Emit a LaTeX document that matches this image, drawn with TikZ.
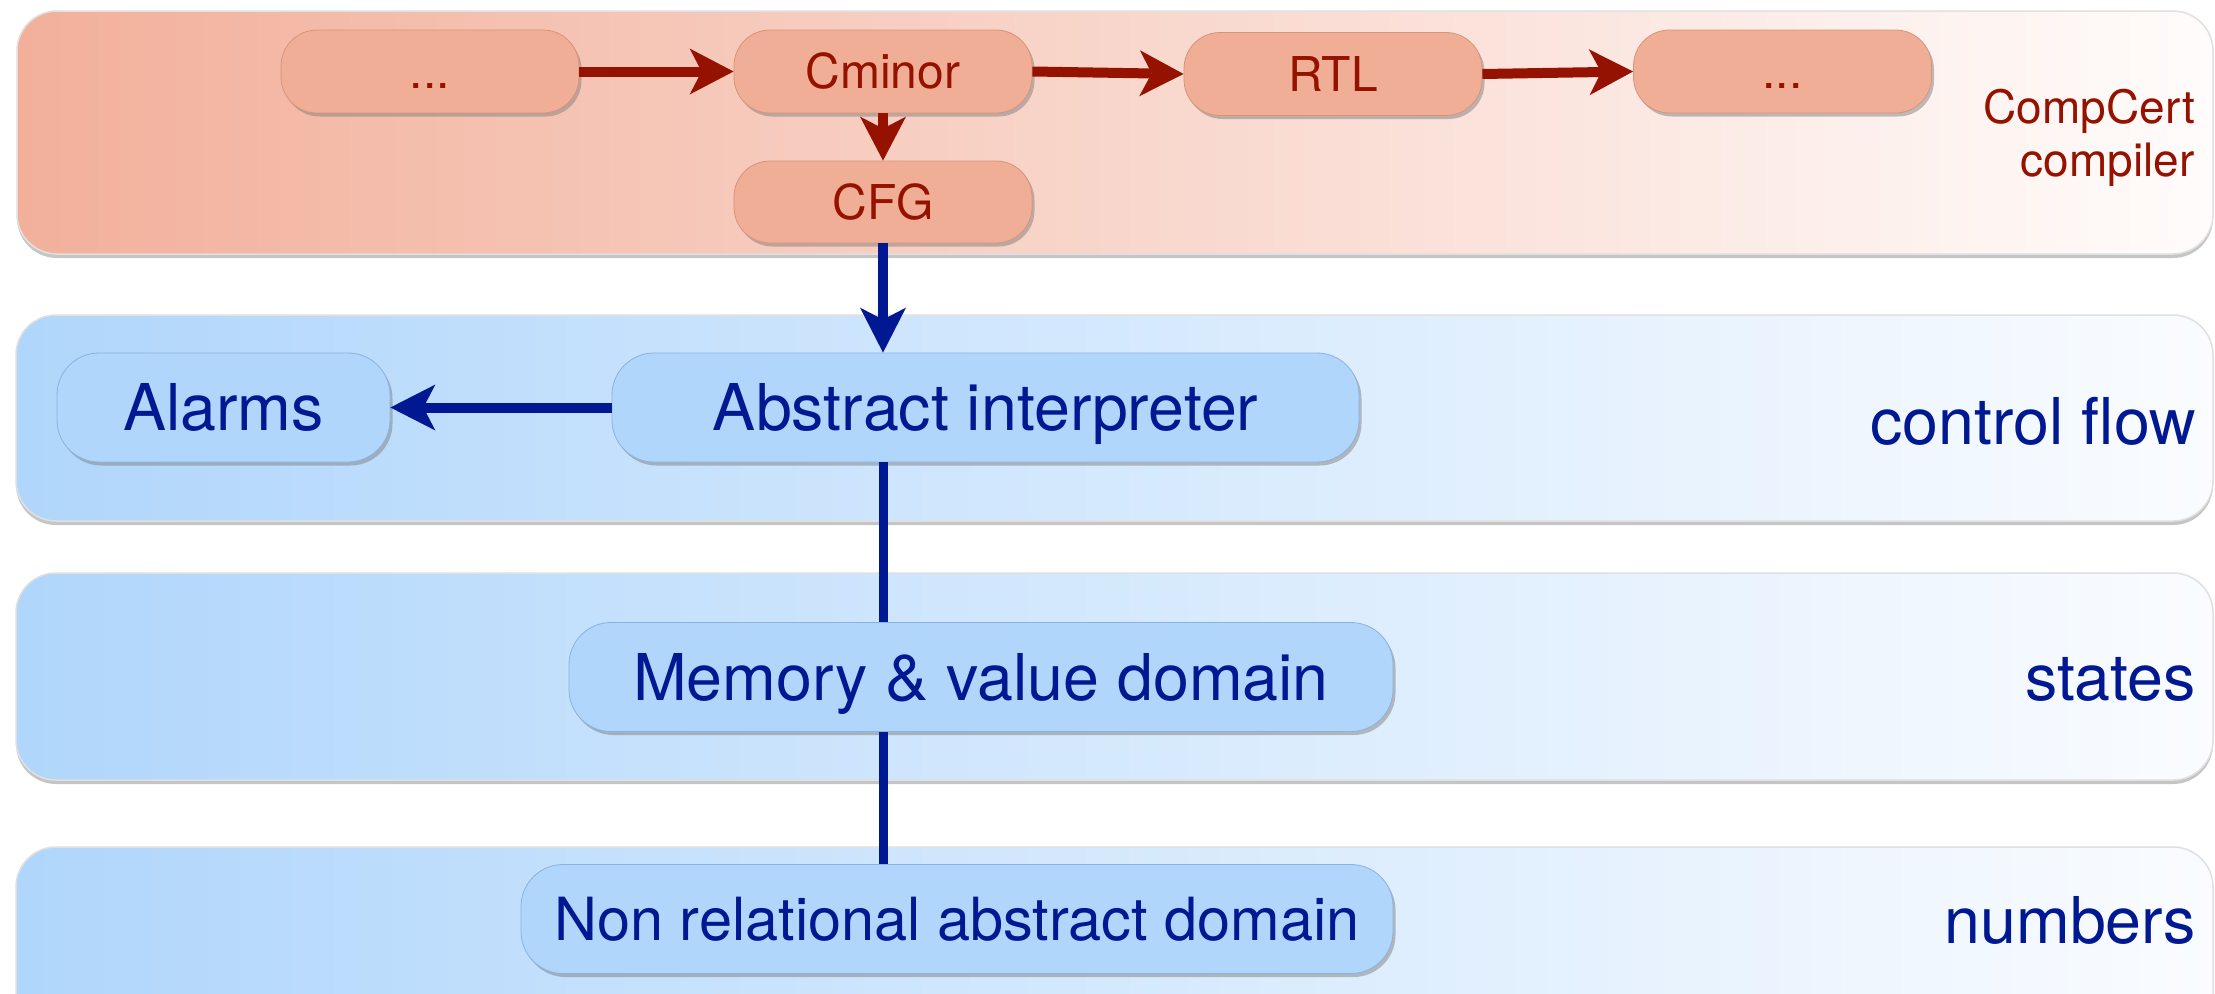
\documentclass[tikz,border=0pt]{standalone}
\usepackage{fontspec}
\setmainfont{TeX Gyre Heros}
\usetikzlibrary{arrows.meta,shadows}
\definecolor{redtxt}{RGB}{150,18,0}
\definecolor{navy}{RGB}{0,24,145}
\definecolor{salmonL}{RGB}{242,176,155}
\definecolor{salmonR}{RGB}{255,252,251}
\definecolor{salmonbox}{RGB}{240,174,150}
\definecolor{salmonedge}{RGB}{214,148,124}
\definecolor{blueL}{RGB}{176,214,251}
\definecolor{blueR}{RGB}{250,252,255}
\definecolor{bluebox}{RGB}{176,214,252}
\definecolor{blueedge}{RGB}{140,178,220}
\newcommand\BigTxt{\fontsize{64.5}{77}\selectfont}
\newcommand\MidTxt{\fontsize{59.5}{71}\selectfont}
\newcommand\SmallTxt{\fontsize{48}{57}\selectfont}
\newcommand\LabTxt{\fontsize{46}{55}\selectfont}
\begin{document}
\begin{tikzpicture}[x=1pt,y=-1pt,
  band/.style={rounded corners=40pt, draw=black!12, line width=1.5pt,
    drop shadow={shadow xshift=0pt, shadow yshift=-4pt, opacity=0.45}},
  sbox/.style={rectangle, rounded corners=36pt, fill=salmonbox, draw=salmonedge,
    line width=0.8pt, minimum width=298pt, minimum height=83pt, inner sep=0pt,
    text=redtxt, font=\SmallTxt, text height=34.5pt, text depth=0pt,
    drop shadow={shadow xshift=2.5pt, shadow yshift=-3.5pt, opacity=0.5}},
  bbox/.style={rectangle, rounded corners=42pt, fill=bluebox, draw=blueedge,
    line width=0.8pt, minimum height=109pt, inner sep=0pt,
    text=navy, font=\BigTxt, text height=46.3pt, text depth=0pt,
    drop shadow={shadow xshift=2.5pt, shadow yshift=-3.5pt, opacity=0.5}},
  redarrow/.style={draw=redtxt, line width=10pt,
    -{Stealth[length=44pt,width=46pt,inset=12pt,line width=0pt]}},
  bluearrow/.style={draw=navy, line width=10pt,
    -{Stealth[length=45pt,width=46pt,inset=12pt,line width=0pt]}},
  blueline/.style={draw=navy, line width=9pt},
  redlabel/.style={text=redtxt, font=\LabTxt, inner sep=0pt, anchor=base east},
  bluelabel/.style={text=navy, font=\BigTxt, inner sep=0pt, anchor=base east}
]
\useasboundingbox (0,0) rectangle (2215,993);
\fill[white] (0,0) rectangle (2215,993);
\begin{scope}
\clip (0,0) rectangle (2215,993);
% bands
\path[band, left color=salmonL, right color=salmonR] (17,11) rectangle (2213,254);
\path[band, left color=blueL, right color=blueR] (16,315) rectangle (2213,521);
\path[band, left color=blueL, right color=blueR] (16,573) rectangle (2213,780);
\path[band, left color=blueL, right color=blueR] (16,847) rectangle (2213,1060);

% compiler nodes
\node[sbox] (dots1) at (430,71.5) {...};
\node[sbox] (cminor) at (883,71.5) {Cminor};
\node[sbox] (rtl) at (1333,74) {RTL};
\node[sbox] (dots2) at (1782.5,71.5) {...};
\node[sbox, minimum height=82pt] (cfg) at (883,202) {CFG};

% analyser nodes
\node[bbox, minimum width=333pt] (alarms) at (223.5,407.5) {Alarms};
\node[bbox, minimum width=747pt] (ai) at (985.5,407.5) {Abstract interpreter};
\node[bbox, minimum width=824pt] (mem) at (981,677) {Memory \& value domain};
\node[bbox, minimum width=872pt, font=\MidTxt, text height=42.7pt] (nonrel) at (957,919) {Non relational abstract domain};

% labels
\node[redlabel] (cc1) at (2195,123) {CompCert};
\node[redlabel] (cc2) at (2195,176) {compiler};
\node[bluelabel] (lcf) at (2196,444) {control flow};
\node[bluelabel] (lst) at (2196,700) {states};
\node[bluelabel] (lnum) at (2196,943) {numbers};

% connectors
\draw[redarrow] (dots1.east) -- (cminor.west);
\draw[redarrow] (cminor.east) -- (rtl.west);
\draw[redarrow] (rtl.east) -- (dots2.west);
\draw[redarrow] (cminor.south) -- (cfg.north);
\draw[bluearrow] (cfg.south) -- (cfg.south |- ai.north);
\draw[bluearrow] (ai.west) -- (alarms.east);
\draw[blueline] (ai.south -| cfg.south) -- (mem.north -| cfg.south);
\draw[blueline] (mem.south -| cfg.south) -- (nonrel.north -| cfg.south);
\end{scope}
\end{tikzpicture}
\end{document}
